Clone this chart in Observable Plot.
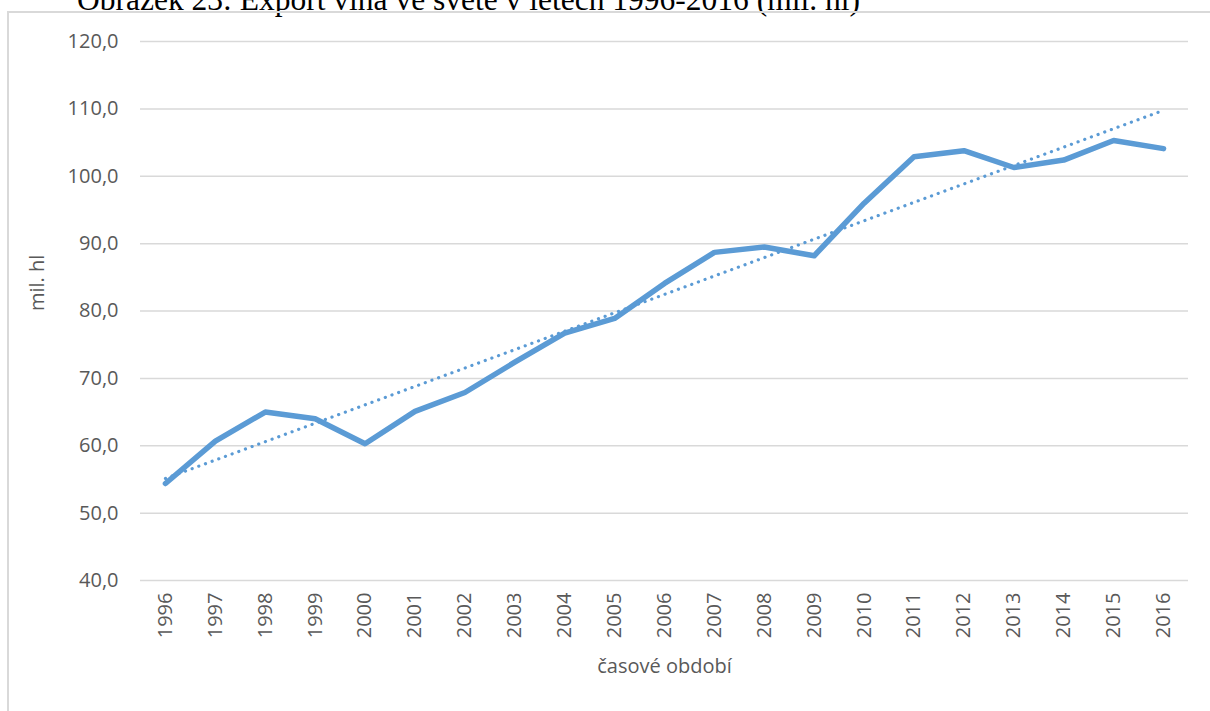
<!DOCTYPE html>
<html>
<head>
<meta charset="utf-8">
<script src="https://cdn.jsdelivr.net/npm/d3@7"></script>
<script src="https://cdn.jsdelivr.net/npm/@observablehq/plot@0.6"></script>
<style>
  html, body { margin: 0; padding: 0; background: #fff; overflow: hidden; }
  #wrap { position: relative; width: 1210px; height: 711px; overflow: hidden; }
  #title { position: absolute; left: 77px; top: -18px; font-family: "Liberation Serif", "Times New Roman", serif; font-size: 31.5px; color: #000; white-space: nowrap; }
  #frame { position: absolute; left: 7px; top: 11px; width: 1230px; height: 730px; border: 2px solid #d9d9d9; box-sizing: border-box; }
  #chart { position: absolute; left: 0; top: 0; }
</style>
</head>
<body>
<div id="wrap">
  <div id="title">Obrázek 23: Export vína ve světě v letech 1996-2016 (mil. hl)</div>
  <div id="frame"></div>
  <div id="chart"></div>
</div>
<script>
const years = ["1996","1997","1998","1999","2000","2001","2002","2003","2004","2005","2006","2007","2008","2009","2010","2011","2012","2013","2014","2015","2016"];
const exportValues = [54.4, 60.7, 65.0, 64.0, 60.3, 65.1, 67.9, 72.4, 76.7, 78.9, 84.1, 88.7, 89.5, 88.2, 96.0, 102.9, 103.8, 101.3, 102.4, 105.3, 104.1];
const yTicks = [40, 50, 60, 70, 80, 90, 100, 110, 120];
const yLabel = "mil. hl";
const xLabel = "časové období";

const data = years.map((y, i) => ({year: y, value: exportValues[i], idx: i}));

// linear trend (least squares) computed from the data
const mx = d3.mean(data, d => d.idx), my = d3.mean(data, d => d.value);
const slope = d3.sum(data, d => (d.idx - mx) * (d.value - my)) / d3.sum(data, d => (d.idx - mx) ** 2);
const intercept = my - slope * mx;
const trend = data.map(d => ({year: d.year, value: intercept + slope * d.idx}));

const fmt = v => v.toFixed(1).replace(".", ",");
const FONT = "'Open Sans', sans-serif";

const chart = Plot.plot({
  width: 1210,
  height: 711,
  marginLeft: 140,
  marginRight: 22,
  marginTop: 41,
  marginBottom: 131,
  style: {fontFamily: FONT, fontSize: "20px", color: "#595959", background: "transparent"},
  x: {type: "point", domain: years, padding: 0.5, round: false, label: null},
  y: {domain: [40, 120], label: null},
  marks: [
    Plot.ruleY(yTicks, {stroke: "#d9d9d9", strokeWidth: 1.5}),
    Plot.axisY({ticks: yTicks, tickFormat: fmt, tickSize: 0, tickPadding: 22, fontSize: 20, fill: "#595959", label: null}),
    Plot.axisX({tickSize: 0, tickPadding: 12, tickRotate: -90, fontSize: 20, fill: "#595959", label: null}),
    Plot.line(trend, {x: "year", y: "value", stroke: "#5b9bd5", strokeWidth: 3.2, strokeDasharray: "0.1 7", strokeLinecap: "round"}),
    Plot.line(data, {x: "year", y: "value", stroke: "#5b9bd5", strokeWidth: 5.5, strokeLinecap: "round", strokeLinejoin: "round"}),
    Plot.text([yLabel], {frameAnchor: "left", dx: -103, rotate: -90, fontSize: 20, fill: "#595959"}),
    Plot.text([xLabel], {frameAnchor: "bottom", dy: 92, fontSize: 20, fill: "#595959"})
  ]
});
document.getElementById("chart").appendChild(chart);
</script>
</body>
</html>
